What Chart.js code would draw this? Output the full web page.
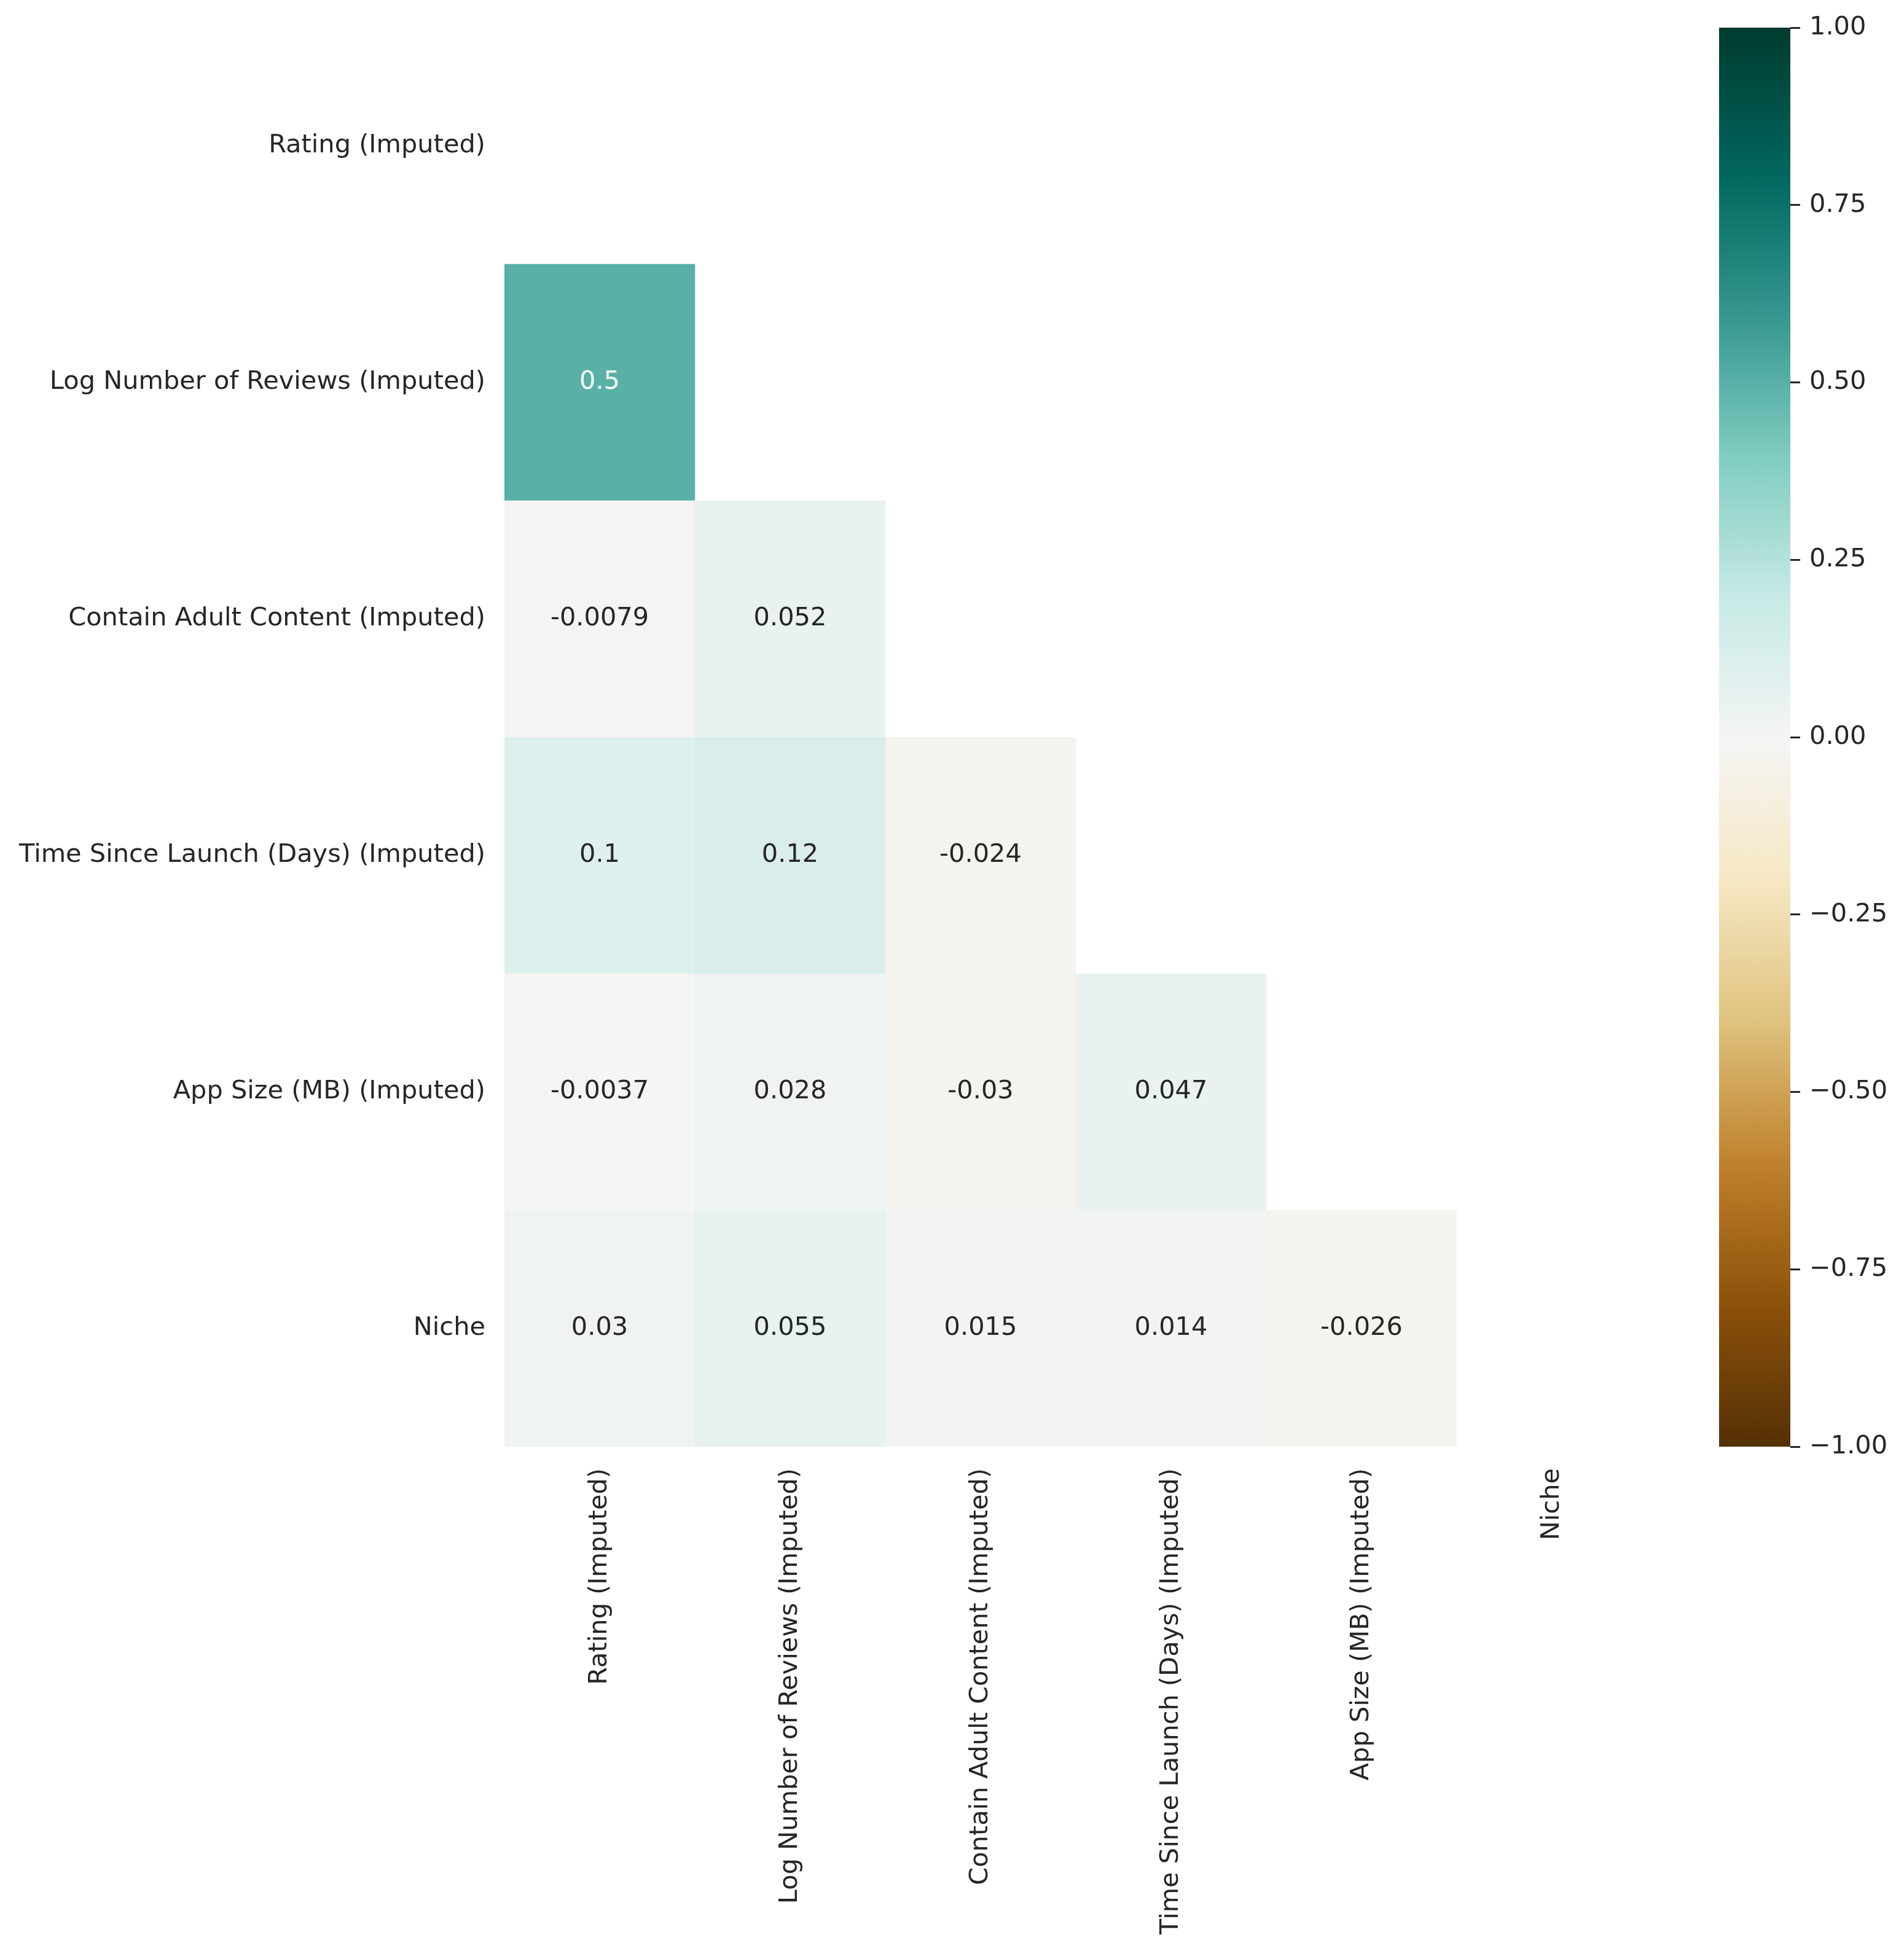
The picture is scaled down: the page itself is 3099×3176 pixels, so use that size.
<!DOCTYPE html>
<html>
<head>
<meta charset="utf-8">
<script src="https://cdn.jsdelivr.net/npm/chart.js@4"></script>
<style>
  html, body { margin: 0; padding: 0; background: #fff; }
  #main { position: absolute; left: 0; top: 0; width: 2700px; height: 3176px; }
  #cbar { position: absolute; left: 2700px; top: 0; width: 399px; height: 3176px; }
</style>
</head>
<body>
<div id="main"><canvas id="heatChart"></canvas></div>
<div id="cbar"><canvas id="cbarChart"></canvas></div>
<script>
// ---------- data ----------
const labels = [
  "Rating (Imputed)",
  "Log Number of Reviews (Imputed)",
  "Contain Adult Content (Imputed)",
  "Time Since Launch (Days) (Imputed)",
  "App Size (MB) (Imputed)",
  "Niche",
];
// lower triangle of the correlation matrix, one array per row
const ratingRow = [];
const reviewsRow = [0.5];
const adultRow = [-0.0079, 0.052];
const launchRow = [0.1, 0.12, -0.024];
const sizeRow = [-0.0037, 0.028, -0.03, 0.047];
const nicheRow = [0.03, 0.055, 0.015, 0.014, -0.026];
const rows = [ratingRow, reviewsRow, adultRow, launchRow, sizeRow, nicheRow];

const cbarTicks = [-1, -0.75, -0.5, -0.25, 0, 0.25, 0.5, 0.75, 1];

// ---------- BrBG colormap ----------
const BrBG = [
  "#543005", "#8c510a", "#bf812d", "#dfc27d", "#f6e8c3", "#f5f5f5",
  "#c7eae5", "#80cdc1", "#35978f", "#01665e", "#003c30",
];
const hexToRgb = (h) => [1, 3, 5].map((i) => parseInt(h.substr(i, 2), 16));
const stops = BrBG.map(hexToRgb);

function cmap(v) {
  let t = (v + 1) / 2;
  t = Math.max(0, Math.min(1, t));
  t = Math.min(255, Math.floor(t * 256)) / 255;
  const pos = t * (stops.length - 1);
  const i = Math.min(stops.length - 2, Math.floor(pos));
  const f = pos - i;
  return stops[i].map((c, k) => c + (stops[i + 1][k] - c) * f);
}
const rgbStr = (c) => `rgb(${c.map(Math.round).join(",")})`;

function luminance(c) {
  const lin = c.map((x) => {
    x = x / 255;
    return x <= 0.03928 ? x / 12.92 : Math.pow((x + 0.055) / 1.055, 2.4);
  });
  return 0.2126 * lin[0] + 0.7152 * lin[1] + 0.0722 * lin[2];
}

const fmt2g = (v) => String(Number(v.toPrecision(2)));

// ---------- shared style ----------
const FONT = "'DejaVu Sans', 'Liberation Sans', sans-serif";
const FSIZE = 41.5;
const TEXT = "#262626";
Chart.defaults.font.family = FONT;
Chart.defaults.font.size = FSIZE;
Chart.defaults.color = TEXT;

// ---------- heatmap ----------
const cells = [];
rows.forEach((row, r) => {
  row.forEach((v, c) => cells.push({ x: labels[c], y: [r, r + 1], v: v }));
});

const annotate = {
  id: "annotate",
  afterDatasetsDraw(chart) {
    const ctx = chart.ctx;
    const meta = chart.getDatasetMeta(0);
    ctx.save();
    ctx.font = FSIZE + "px " + FONT;
    ctx.textAlign = "center";
    ctx.textBaseline = "middle";
    meta.data.forEach((bar, i) => {
      const v = chart.data.datasets[0].data[i].v;
      ctx.fillStyle = luminance(cmap(v)) > 0.408 ? TEXT : "#ffffff";
      ctx.fillText(fmt2g(v), bar.x, (bar.y + bar.base) / 2);
    });
    ctx.restore();
  },
};

new Chart(document.getElementById("heatChart"), {
  type: "bar",
  data: {
    labels: labels,
    datasets: [
      {
        data: cells,
        backgroundColor: (ctx) => rgbStr(cmap(ctx.raw ? ctx.raw.v : 0)),
        borderWidth: 0,
        barPercentage: 1,
        categoryPercentage: 1,
      },
    ],
  },
  options: {
    responsive: true,
    maintainAspectRatio: false,
    animation: false,
    layout: { padding: { top: 45, right: 19, left: 0, bottom: 0 } },
    plugins: { legend: { display: false }, tooltip: { enabled: false } },
    scales: {
      x: {
        grid: { display: false, drawTicks: false },
        border: { display: false },
        ticks: { minRotation: 90, maxRotation: 90, autoSkip: false, padding: 35 },
        afterFit: (s) => {
          s.height = 821;
          s.paddingLeft = 0;
          s.paddingRight = 0;
        },
      },
      y: {
        min: 0,
        max: 6,
        reverse: true,
        grid: { display: false, drawTicks: false },
        border: { display: false },
        ticks: { padding: 31, callback: (v) => labels[Math.floor(v)] },
        afterBuildTicks: (s) => {
          s.ticks = labels.map((_, i) => ({ value: i + 0.5 }));
        },
        afterFit: (s) => {
          s.width = 821;
          s.paddingTop = 0;
          s.paddingBottom = 0;
        },
      },
    },
  },
  plugins: [annotate],
});

// ---------- colour bar ----------
new Chart(document.getElementById("cbarChart"), {
  type: "bar",
  data: {
    labels: ["cbar"],
    datasets: [
      {
        data: [[-1, 1]],
        borderWidth: 0,
        barPercentage: 1,
        categoryPercentage: 1,
        backgroundColor: (ctx) => {
          const area = ctx.chart.chartArea;
          if (!area) return "#f5f5f5";
          const g = ctx.chart.ctx.createLinearGradient(0, area.bottom, 0, area.top);
          for (let k = 0; k <= 64; k++) {
            const t = k / 64;
            g.addColorStop(t, rgbStr(cmap(t * 2 - 1)));
          }
          return g;
        },
      },
    ],
  },
  options: {
    responsive: true,
    maintainAspectRatio: false,
    animation: false,
    layout: { padding: { top: 45, left: 98, right: 0, bottom: 821 } },
    plugins: { legend: { display: false }, tooltip: { enabled: false } },
    scales: {
      x: { display: false },
      y: {
        position: "right",
        min: -1,
        max: 1,
        grid: {
          drawOnChartArea: false,
          drawTicks: true,
          tickLength: 16,
          tickWidth: 3,
          tickColor: TEXT,
        },
        border: { display: false },
        ticks: {
          padding: 15,
          callback: (v) => (v < 0 ? "\u2212" + Math.abs(v).toFixed(2) : v.toFixed(2)),
        },
        afterBuildTicks: (s) => {
          s.ticks = cbarTicks.map((v) => ({ value: v }));
        },
        afterFit: (s) => {
          s.width = 185;
          s.paddingTop = 0;
          s.paddingBottom = 0;
        },
      },
    },
  },
});
</script>
</body>
</html>
